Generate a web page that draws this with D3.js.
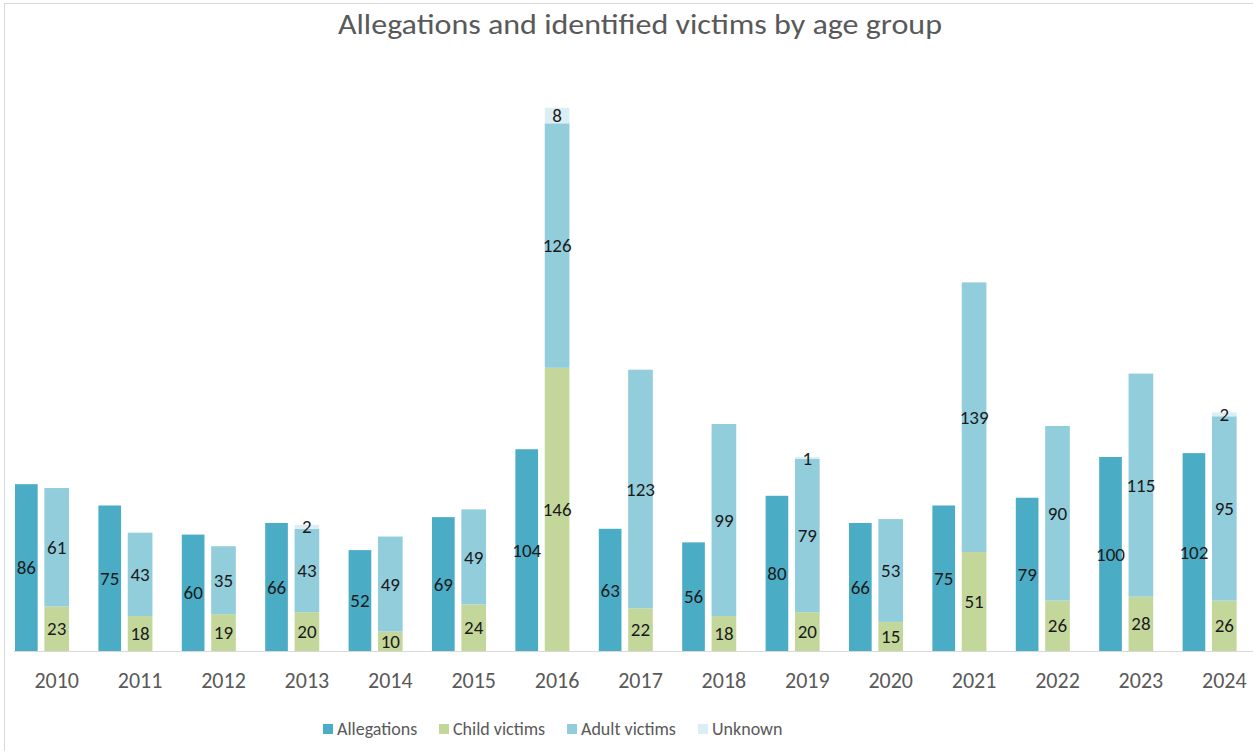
<!DOCTYPE html>
<html>
<head>
<meta charset="utf-8">
<script src="https://cdn.jsdelivr.net/npm/d3@7"></script>
<style>
  body { margin: 0; background: #fff; }
  svg { display: block; font-family: Carlito, Lato, "Open Sans", sans-serif; }
</style>
</head>
<body>
<script>
var width = 1253,
    height = 751;

var years = ["2010", "2011", "2012", "2013", "2014", "2015", "2016", "2017", "2018", "2019", "2020", "2021", "2022", "2023", "2024"];
var allegations = [86, 75, 60, 66, 52, 69, 104, 63, 56, 80, 66, 75, 79, 100, 102];
var childVictims = [23, 18, 19, 20, 10, 24, 146, 22, 18, 20, 15, 51, 26, 28, 26];
var adultVictims = [61, 43, 35, 43, 49, 49, 126, 123, 99, 79, 53, 139, 90, 115, 95];
var unknownVictims = [0, 0, 0, 2, 0, 0, 8, 0, 0, 1, 0, 0, 0, 0, 2];

var seriesNames = ["Allegations", "Child victims", "Adult victims", "Unknown"];
var colors = ["#4bacc6", "#c4d79b", "#92cddc", "#daeef3"];

var svg = d3.select("body").append("svg")
    .attr("width", width)
    .attr("height", height);

// outer border (only left / top are visible in the crop)
svg.append("rect")
    .attr("x", 4.5).attr("y", 3.5)
    .attr("width", width + 10).attr("height", height + 10)
    .attr("fill", "none").attr("stroke", "#d9d9d9");

svg.append("text")
    .attr("x", 640)
    .attr("y", 34)
    .attr("text-anchor", "middle")
    .attr("fill", "#595959")
    .attr("textLength", 604)
    .attr("lengthAdjust", "spacingAndGlyphs")
    .style("font-size", "29px")
    .text("Allegations and identified victims by age group");

var x = d3.scaleBand()
    .domain(years)
    .range([15, 1266])
    .padding(0);

// third slot stays empty, like the placeholder series in the original
var inner = d3.scaleBand()
    .domain(["alleg", "victims", "blank"])
    .range([0, x.bandwidth()])
    .paddingInner(0.16)
    .paddingOuter(0);

var y = d3.scaleLinear()
    .domain([0, 300])
    .range([651, 69]);

var rows = years.map(function (yr, i) {
    return {year: yr, alleg: allegations[i], child: childVictims[i], adult: adultVictims[i], unknown: unknownVictims[i]};
});

var stacked = d3.stack().keys(["child", "adult", "unknown"])(rows);

var g = svg.append("g");

// allegations bars
g.selectAll(".alleg")
    .data(rows)
    .enter().append("rect")
    .attr("class", "alleg")
    .attr("x", function (d) { return x(d.year) + inner("alleg"); })
    .attr("y", function (d) { return y(d.alleg); })
    .attr("width", inner.bandwidth() - 2)
    .attr("height", function (d) { return y(0) - y(d.alleg); })
    .attr("fill", colors[0]);

g.selectAll(".alleg-label")
    .data(rows)
    .enter().append("text")
    .attr("x", function (d) { return x(d.year) + inner("alleg") + (inner.bandwidth() - 2) / 2; })
    .attr("y", function (d) { return (y(d.alleg) + y(0)) / 2; })
    .attr("dy", "0.35em")
    .attr("text-anchor", "middle")
    .attr("fill", "#1a1a1a")
    .style("font-size", "19px")
    .text(function (d) { return d.alleg; });

// victims, stacked
var layer = g.selectAll(".layer")
    .data(stacked)
    .enter().append("g")
    .attr("fill", function (d, i) { return colors[i + 1]; });

layer.selectAll("rect")
    .data(function (d) { return d.filter(function (v) { return v[1] > v[0]; }); })
    .enter().append("rect")
    .attr("x", function (d) { return x(d.data.year) + inner("victims"); })
    .attr("y", function (d) { return y(d[1]); })
    .attr("width", inner.bandwidth())
    .attr("height", function (d) { return y(d[0]) - y(d[1]); });

stacked.forEach(function (s) {
    g.append("g").selectAll("text")
        .data(s.filter(function (d) { return d[1] > d[0]; }))
        .enter().append("text")
        .attr("x", function (d) { return x(d.data.year) + inner("victims") + inner.bandwidth() / 2; })
        .attr("y", function (d) { return (y(d[0]) + y(d[1])) / 2; })
        .attr("dy", "0.35em")
        .attr("text-anchor", "middle")
        .attr("fill", "#1a1a1a")
        .style("font-size", "19px")
        .text(function (d) { return d[1] - d[0]; });
});

// x axis
var xAxis = d3.axisBottom(x).tickSize(0).tickPadding(21);
var ax = svg.append("g")
    .attr("transform", "translate(0," + y(0) + ")")
    .call(xAxis);
ax.select(".domain").attr("stroke", "#d9d9d9").attr("d", "M14,0.5H" + width);
ax.selectAll("text")
    .attr("fill", "#595959")
    .style("font-size", "22px")
    .style("font-family", "Carlito, Lato, 'Open Sans', sans-serif");

// legend
var legendX = [323, 439, 567, 698];
var legend = svg.append("g").selectAll("g")
    .data(seriesNames)
    .enter().append("g")
    .attr("transform", function (d, i) { return "translate(" + legendX[i] + ",724)"; });

legend.append("rect")
    .attr("width", 10).attr("height", 10)
    .attr("fill", function (d, i) { return colors[i]; });

legend.append("text")
    .attr("x", 14)
    .attr("y", 5)
    .attr("dy", "0.35em")
    .attr("fill", "#595959")
    .style("font-size", "18px")
    .text(function (d) { return d; });
</script>
</body>
</html>
